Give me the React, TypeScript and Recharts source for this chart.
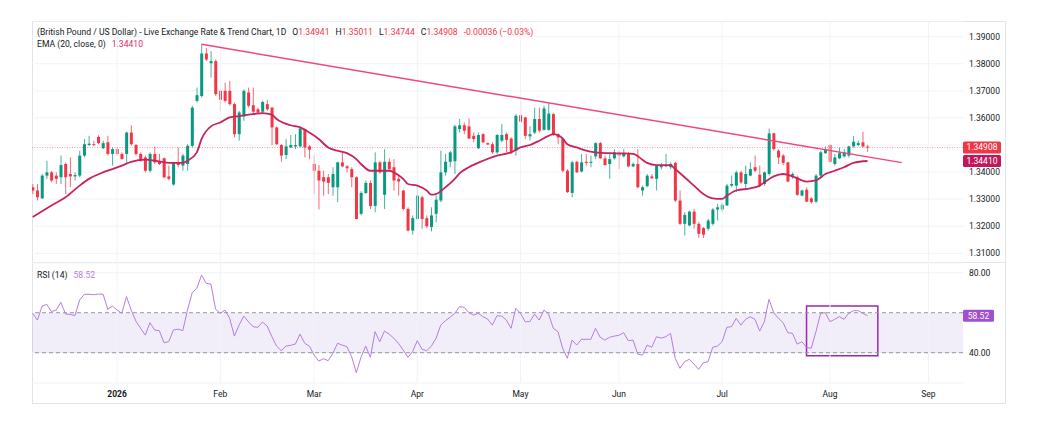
import {
  ComposedChart,
  Bar,
  Line,
  XAxis,
  YAxis,
  CartesianGrid,
  ReferenceLine,
  ReferenceArea,
} from 'recharts';

// daily GBP/USD candles, [open, high, low, close], one per trading day
const CANDLES: [number, number, number, number][] = [
  [1.3344, 1.3356, 1.3319, 1.3332], [1.3332, 1.3356, 1.3295, 1.3307], [1.3303, 1.3393, 1.3301, 1.3387],
  [1.3387, 1.3442, 1.3375, 1.3399], [1.3399, 1.3405, 1.3362, 1.3369], [1.3387, 1.3399, 1.3356, 1.3375],
  [1.3381, 1.3461, 1.3356, 1.3426], [1.343, 1.3436, 1.3319, 1.3381], [1.3393, 1.3454, 1.3344, 1.3384],
  [1.3384, 1.3399, 1.3369, 1.3389], [1.3387, 1.3479, 1.3381, 1.3461], [1.3461, 1.3522, 1.3454, 1.3503],
  [1.35, 1.3534, 1.3497, 1.3505], [1.3503, 1.3516, 1.3497, 1.3502], [1.353, 1.3536, 1.3503, 1.3507],
  [1.3488, 1.3516, 1.3485, 1.3507], [1.351, 1.3534, 1.3461, 1.3467], [1.3467, 1.3491, 1.3424, 1.3485],
  [1.3485, 1.3491, 1.3461, 1.3467], [1.3467, 1.3473, 1.3446, 1.3448], [1.3467, 1.3549, 1.343, 1.3546],
  [1.3546, 1.3573, 1.3497, 1.3503], [1.35, 1.3503, 1.3461, 1.3467], [1.3467, 1.3473, 1.3438, 1.3442],
  [1.3454, 1.3461, 1.3399, 1.3405], [1.3405, 1.3473, 1.3399, 1.3467], [1.3467, 1.3495, 1.343, 1.3436],
  [1.3438, 1.3467, 1.3426, 1.343], [1.3451, 1.3454, 1.3377, 1.3381], [1.3384, 1.3424, 1.3369, 1.3375],
  [1.3354, 1.3438, 1.335, 1.3436], [1.3434, 1.3491, 1.3418, 1.3426], [1.3424, 1.3467, 1.3405, 1.3461],
  [1.343, 1.3503, 1.3405, 1.3497], [1.3497, 1.3645, 1.3491, 1.3638], [1.3663, 1.3712, 1.3657, 1.3684],
  [1.3681, 1.3872, 1.3675, 1.3838], [1.3838, 1.3859, 1.381, 1.3816], [1.3802, 1.3847, 1.3749, 1.381],
  [1.381, 1.3816, 1.3681, 1.3688], [1.37, 1.3706, 1.3626, 1.3667], [1.37, 1.373, 1.3657, 1.3663],
  [1.37, 1.3737, 1.3645, 1.3651], [1.3651, 1.3657, 1.3528, 1.354], [1.354, 1.3626, 1.3516, 1.362],
  [1.3605, 1.3706, 1.3589, 1.37], [1.3694, 1.3712, 1.3638, 1.3645], [1.3647, 1.3712, 1.3614, 1.3623],
  [1.3632, 1.3638, 1.3614, 1.362], [1.3623, 1.3663, 1.3614, 1.3659], [1.3651, 1.3667, 1.3626, 1.3632],
  [1.3638, 1.364, 1.35, 1.3565], [1.3565, 1.3569, 1.35, 1.3503], [1.35, 1.3503, 1.3438, 1.3461],
  [1.3463, 1.3522, 1.3448, 1.3495], [1.3491, 1.3537, 1.3489, 1.35], [1.3495, 1.354, 1.3485, 1.35],
  [1.3495, 1.3569, 1.3491, 1.3561], [1.3559, 1.3561, 1.3454, 1.3491], [1.3495, 1.35, 1.3448, 1.3483],
  [1.343, 1.3461, 1.3319, 1.3405], [1.3405, 1.3426, 1.3262, 1.3369], [1.3381, 1.3405, 1.3313, 1.3365],
  [1.3381, 1.3393, 1.3319, 1.336], [1.3344, 1.3418, 1.3313, 1.3393], [1.3344, 1.3438, 1.3289, 1.3436],
  [1.3436, 1.3473, 1.3418, 1.3421], [1.3421, 1.3426, 1.3399, 1.3414], [1.3411, 1.3418, 1.3344, 1.3381],
  [1.3381, 1.3384, 1.3225, 1.3227], [1.3246, 1.333, 1.324, 1.3323], [1.3323, 1.3369, 1.3319, 1.336],
  [1.336, 1.3369, 1.3264, 1.3275], [1.3275, 1.3473, 1.3252, 1.3436], [1.3436, 1.3442, 1.3393, 1.3399],
  [1.3316, 1.3485, 1.3264, 1.3438], [1.3438, 1.3451, 1.3405, 1.3411], [1.3418, 1.3448, 1.3332, 1.3369],
  [1.3375, 1.3387, 1.3313, 1.3365], [1.3332, 1.3335, 1.3258, 1.3264], [1.3264, 1.327, 1.3181, 1.3184],
  [1.3184, 1.324, 1.3169, 1.323], [1.3227, 1.3344, 1.3221, 1.3313], [1.3307, 1.3313, 1.3191, 1.3227],
  [1.323, 1.324, 1.3193, 1.32], [1.3197, 1.327, 1.3181, 1.324], [1.3246, 1.3313, 1.3215, 1.3298],
  [1.3295, 1.3479, 1.3289, 1.3399], [1.3399, 1.3467, 1.3387, 1.3438], [1.3438, 1.3479, 1.3418, 1.3473],
  [1.344, 1.3575, 1.3393, 1.3569], [1.3559, 1.3596, 1.3546, 1.3573], [1.3573, 1.3583, 1.354, 1.3553],
  [1.3569, 1.3598, 1.3522, 1.3524], [1.3534, 1.3546, 1.351, 1.3522], [1.3488, 1.3546, 1.3485, 1.3537],
  [1.354, 1.3543, 1.3507, 1.351], [1.3507, 1.351, 1.35, 1.3502], [1.3503, 1.351, 1.3467, 1.3473],
  [1.3473, 1.354, 1.3467, 1.3537], [1.3516, 1.3577, 1.351, 1.3537], [1.354, 1.3546, 1.3473, 1.3519],
  [1.3524, 1.3528, 1.3467, 1.3473], [1.3479, 1.3614, 1.3461, 1.3608], [1.361, 1.3659, 1.3581, 1.3586],
  [1.3602, 1.3605, 1.3522, 1.3534], [1.3532, 1.3569, 1.3516, 1.354], [1.3546, 1.3638, 1.354, 1.3596],
  [1.3596, 1.3638, 1.3546, 1.3553], [1.3556, 1.3645, 1.3553, 1.3635], [1.3556, 1.3657, 1.3553, 1.3616],
  [1.3614, 1.3618, 1.3534, 1.354], [1.354, 1.3543, 1.3503, 1.3528], [1.3522, 1.3524, 1.3399, 1.3405],
  [1.3405, 1.3411, 1.3323, 1.3326], [1.3323, 1.3442, 1.3307, 1.3436], [1.3438, 1.3442, 1.3397, 1.3399],
  [1.3402, 1.3467, 1.3399, 1.3436], [1.3438, 1.3467, 1.3424, 1.3434], [1.3434, 1.3461, 1.3418, 1.3438],
  [1.3458, 1.351, 1.3448, 1.3507], [1.3507, 1.3512, 1.3448, 1.3451], [1.3451, 1.3461, 1.3424, 1.3426],
  [1.343, 1.3467, 1.3375, 1.3448], [1.3451, 1.3485, 1.3446, 1.3473], [1.3467, 1.3479, 1.3411, 1.3461],
  [1.3458, 1.3485, 1.3454, 1.3467], [1.3467, 1.3473, 1.3418, 1.3421], [1.3421, 1.3436, 1.3418, 1.343],
  [1.343, 1.3485, 1.334, 1.3344], [1.3332, 1.335, 1.3313, 1.3344], [1.3348, 1.3393, 1.3344, 1.3387],
  [1.3384, 1.3393, 1.3375, 1.3377], [1.3375, 1.3426, 1.3332, 1.3424], [1.3418, 1.3434, 1.3409, 1.3426],
  [1.3421, 1.3467, 1.3418, 1.3426], [1.3418, 1.3436, 1.3411, 1.343], [1.3434, 1.3438, 1.3289, 1.3295],
  [1.3295, 1.3332, 1.3205, 1.3209], [1.3209, 1.3252, 1.3166, 1.3242], [1.3203, 1.3258, 1.32, 1.3254],
  [1.3254, 1.3264, 1.3191, 1.3209], [1.3209, 1.3215, 1.3157, 1.3172], [1.3193, 1.3197, 1.3157, 1.3169],
  [1.3191, 1.3227, 1.3184, 1.3221], [1.3209, 1.3267, 1.3203, 1.3262], [1.3262, 1.3283, 1.3221, 1.327],
  [1.3262, 1.3286, 1.3252, 1.3279], [1.3277, 1.3356, 1.3274, 1.335], [1.335, 1.3387, 1.3344, 1.3356],
  [1.335, 1.3405, 1.3326, 1.3399], [1.3399, 1.3405, 1.3356, 1.3362], [1.3356, 1.3424, 1.3338, 1.3393],
  [1.3387, 1.3436, 1.3384, 1.3411], [1.3418, 1.3461, 1.3399, 1.3405], [1.339, 1.3424, 1.3344, 1.335],
  [1.3356, 1.3402, 1.335, 1.3399], [1.3393, 1.3561, 1.3387, 1.3543], [1.3543, 1.3546, 1.3479, 1.3485],
  [1.3479, 1.3485, 1.343, 1.3454], [1.3461, 1.3467, 1.3426, 1.3434], [1.3436, 1.3438, 1.3362, 1.3365],
  [1.3387, 1.3399, 1.3375, 1.3393], [1.3381, 1.3387, 1.3313, 1.3316], [1.3313, 1.3335, 1.3311, 1.3332],
  [1.3335, 1.3344, 1.3289, 1.3291], [1.3303, 1.3307, 1.3283, 1.3289], [1.3291, 1.3393, 1.3286, 1.3387],
  [1.3387, 1.3479, 1.3375, 1.3473], [1.347, 1.3495, 1.3467, 1.3485], [1.35, 1.3503, 1.3434, 1.3438],
  [1.343, 1.3467, 1.3424, 1.3454], [1.3451, 1.3491, 1.3448, 1.347], [1.3458, 1.3485, 1.3454, 1.3473],
  [1.3461, 1.3497, 1.3454, 1.3495], [1.3495, 1.3534, 1.3491, 1.3512], [1.35, 1.3516, 1.3497, 1.3507],
  [1.351, 1.3549, 1.3491, 1.3495], [1.34941, 1.35011, 1.34744, 1.34908],
];

// RSI(14), one value per candle
const RSI = [
  59.7, 56.3, 63.3, 64.2, 60.5, 61.3, 65.2, 59.3, 59.2, 58.5, 66.3, 69.2, 69.2, 69, 69.3, 69.3, 61.7, 63.3, 61.3, 59.7,
  68, 61.3, 55.8, 52.2, 48.8, 55, 51.3, 51, 45, 45.5, 51.3, 51.8, 51, 61.3, 70, 72.2, 78.8, 74.7, 74.3, 61.7,
  59.7, 61.3, 57.2, 48.3, 53.8, 58.3, 55.5, 53, 52.7, 55.3, 53.3, 48, 43.3, 41, 43.3, 43.7, 44.3, 49.3, 44.7, 43.3,
  38.8, 35.8, 37, 36, 39.7, 44.7, 43.8, 43, 38, 30, 37.7, 43.3, 37.7, 50.5, 45.5, 50.8, 49.3, 47.2, 44.7, 41.3,
  37.7, 40.5, 46, 41.7, 41, 43.3, 47.2, 53.8, 56, 57.7, 59.7, 63, 62.7, 60, 58.8, 59.7, 58, 56.8, 53.8, 58.5,
  58.3, 56.3, 52.2, 62.2, 59.7, 55.5, 55.5, 59.3, 56.3, 61.3, 59.3, 52.2, 50.5, 42.2, 37.2, 46.3, 43.8, 46.7, 46.7, 46.7,
  52.2, 47.7, 46.3, 47.7, 48.3, 48.7, 50, 46, 46.3, 39.3, 38.8, 43.8, 42.7, 48, 47.3, 48, 49.7, 37.2, 32.2, 35.5,
  36.7, 34.3, 31.7, 35, 35.5, 42.7, 43.3, 45.5, 52.7, 53, 57.2, 53.8, 56.7, 58, 56.7, 50.8, 55.5, 66.7, 60, 57.2,
  55, 50, 49.7, 44.3, 45.5, 42.7, 42.2, 50.5, 59.7, 60, 55.5, 56.7, 58, 56.7, 59.7, 61, 61, 59.7, 58.52,
];

// EMA(20): [candle index, value]
const EMA_POINTS: [number, number][] = [
  [0, 1.3234], [4, 1.3277], [7, 1.3307], [10, 1.335], [12, 1.3375], [15, 1.3399], [17, 1.3411], [19, 1.3424],
  [21, 1.3438], [24, 1.3446], [26, 1.3442], [28, 1.3436], [30, 1.3434], [32, 1.3434], [33, 1.3442], [35, 1.3473],
  [36, 1.3522], [38, 1.3569], [40, 1.3583], [42, 1.3602], [44, 1.3607], [47, 1.3614], [49, 1.3618], [51, 1.3612],
  [52, 1.3596], [55, 1.3573], [57, 1.3565], [59, 1.3546], [61, 1.3522], [63, 1.3491], [65, 1.3479], [67, 1.347],
  [69, 1.3448], [70, 1.343], [72, 1.3405], [74, 1.3405], [76, 1.3405], [77, 1.3399], [79, 1.3375], [80, 1.3356],
  [82, 1.335], [84, 1.3332], [85, 1.3317], [86, 1.3319], [88, 1.3344], [90, 1.3375], [91, 1.3395], [93, 1.3418],
  [96, 1.3442], [99, 1.3461], [102, 1.3473], [104, 1.3491], [106, 1.35], [108, 1.3516], [110, 1.3534], [111, 1.354],
  [113, 1.3524], [114, 1.3503], [116, 1.3491], [118, 1.3479], [120, 1.3473], [123, 1.347], [126, 1.3469], [128, 1.3467],
  [130, 1.3446], [131, 1.3434], [133, 1.3426], [136, 1.3426], [137, 1.3411], [139, 1.3381], [141, 1.335], [143, 1.3319],
  [145, 1.3303], [147, 1.3301], [148, 1.3313], [150, 1.3332], [153, 1.334], [155, 1.335], [156, 1.3362], [158, 1.3384],
  [160, 1.3393], [161, 1.339], [163, 1.3377], [165, 1.3365], [167, 1.3369], [169, 1.3393], [171, 1.3405], [173, 1.3418],
  [175, 1.3434], [178, 1.3441],
];

const MONTH_TICKS = [18, 40, 60, 82, 104, 125, 147, 170, 191];
const MONTH_LABELS = ['2026', 'Feb', 'Mar', 'Apr', 'May', 'Jun', 'Jul', 'Aug', 'Sep'];
const PRICE_TICKS = [1.31, 1.32, 1.33, 1.34, 1.35, 1.36, 1.37, 1.38, 1.39];
const RSI_TICKS = [40, 80];

// trend line drawn through the late-January high
const TREND_FROM = { x: 36, y: 1.3872 };
const TREND_TO = { x: 185.3, y: 1.3435 };
const LAST_CLOSE = 1.34908;
const LAST_EMA = 1.3441;
const LAST_RSI = 58.52;

const X_DOMAIN: [number, number] = [-0.15, 198.36];
const PRICE_DOMAIN: [number, number] = [1.30643, 1.3958];
const RSI_DOMAIN: [number, number] = [24.85, 84.85];

const UP = '#089981';
const DOWN = '#f23645';
const GRID = '#f0f3fa';
const TEXT = '#131722';
const FONT = 'Roboto, "Noto Sans", sans-serif';

const emaByIndex = new Map(EMA_POINTS);
const rows = CANDLES.map(([o, h, l, c], i) => ({
  i,
  o,
  h,
  l,
  c,
  range: [l, h],
  ema: emaByIndex.get(i) ?? null,
  rsi: RSI[i],
}));

function Candle(props: any) {
  const { x, y, width, height, payload } = props;
  if (!payload) return null;
  const { o, h, l, c } = payload;
  const color = c >= o ? UP : DOWN;
  const cx = x + width / 2;
  const yHigh = Math.min(y, y + height);
  const yLow = Math.max(y, y + height);
  const span = h - l || 1e-9;
  const py = (p: number) => yHigh + ((h - p) / span) * (yLow - yHigh);
  const top = py(Math.max(o, c));
  const bot = py(Math.min(o, c));
  return (
    <g>
      <line x1={cx} x2={cx} y1={yHigh} y2={yLow} stroke={color} strokeWidth={1} strokeOpacity={0.75} />
      <rect x={cx - 1.5} y={top} width={3} height={Math.max(bot - top, 1)} fill={color} />
    </g>
  );
}

function Tag(props: any) {
  const { viewBox, text, color, w } = props;
  if (!viewBox) return null;
  const left = viewBox.x + viewBox.width;
  return (
    <g>
      <rect x={left} y={viewBox.y - 6} width={w} height={12} rx={1.5} fill={color} />
      <text x={left + w / 2} y={viewBox.y} dy="0.35em" textAnchor="middle" fontSize={8.5} fill="#fff" fontFamily={FONT}>
        {text}
      </text>
    </g>
  );
}

function MonthTick(props: any) {
  const { x, y, payload } = props;
  const idx = MONTH_TICKS.indexOf(payload.value);
  const label = MONTH_LABELS[idx] ?? '';
  return (
    <text x={x} y={y} dy="0.71em" textAnchor="middle" fontSize={8.5} fontFamily={FONT} fill={TEXT} fontWeight={label === '2026' ? 700 : 400}>
      {label}
    </text>
  );
}

const tickStyle = { fontSize: 8.5, fill: TEXT, fontFamily: FONT };

// the 1.35 label sits under the last-price tag in the reference
const priceLabel = (v: number) => (Math.abs(v - 1.35) < 1e-6 ? '' : v.toFixed(5));

export default function App() {
  return (
    <div style={{ position: 'absolute', left: 0, top: 0, width: 1051, height: 432, background: '#fff', fontFamily: FONT }}>
      <div style={{ position: 'absolute', left: 32, top: 21, width: 974, height: 383, border: '1px solid #e0e3eb', boxSizing: 'border-box' }} />
      <div style={{ position: 'absolute', left: 32, top: 262, width: 974, height: 1, background: '#e0e3eb' }} />

      <div style={{ position: 'absolute', left: 32, top: 21 }}>
        <ComposedChart width={974} height={242} data={rows} margin={{ top: 0, right: 0, bottom: 0, left: 0 }}>
          <CartesianGrid vertical={false} stroke={GRID} />
          {MONTH_TICKS.map((t) => (
            <ReferenceLine key={t} x={t} stroke={GRID} />
          ))}
          <XAxis dataKey="i" type="number" domain={X_DOMAIN} allowDataOverflow hide />
          <YAxis
            orientation="right"
            width={43}
            domain={PRICE_DOMAIN}
            allowDataOverflow
            ticks={PRICE_TICKS}
            tickFormatter={priceLabel}
            axisLine={false}
            tickLine={false}
            tickMargin={0}
            tick={tickStyle}
          />
          <ReferenceLine
            y={LAST_CLOSE}
            stroke={DOWN}
            strokeOpacity={0.5}
            strokeDasharray="1 1.5"
            label={<Tag text="1.34908" color={DOWN} w={38} />}
          />
          <ReferenceLine y={LAST_EMA} stroke="none" label={<Tag text="1.34410" color="#c2185b" w={38} />} />
          <Bar dataKey="range" barSize={3} shape={<Candle />} isAnimationActive={false} />
          <Line
            dataKey="ema"
            type="monotone"
            stroke="#c8235f"
            strokeWidth={1.8}
            dot={false}
            connectNulls
            isAnimationActive={false}
          />
          <ReferenceLine segment={[TREND_FROM, TREND_TO]} stroke="#f0467f" strokeWidth={1.5} />
        </ComposedChart>
      </div>

      <div style={{ position: 'absolute', left: 32, top: 263 }}>
        <ComposedChart width={974} height={141} data={rows} margin={{ top: 0, right: 0, bottom: 0, left: 0 }}>
          <CartesianGrid vertical={false} stroke={GRID} />
          {MONTH_TICKS.map((t) => (
            <ReferenceLine key={t} x={t} stroke={GRID} />
          ))}
          <XAxis
            dataKey="i"
            type="number"
            domain={X_DOMAIN}
            allowDataOverflow
            ticks={MONTH_TICKS}
            height={21}
            axisLine={false}
            tickLine={false}
            tick={<MonthTick />}
          />
          <YAxis
            orientation="right"
            width={43}
            domain={RSI_DOMAIN}
            allowDataOverflow
            ticks={RSI_TICKS}
            tickFormatter={(v: number) => v.toFixed(2)}
            axisLine={false}
            tickLine={false}
            tickMargin={0}
            tick={tickStyle}
          />
          <ReferenceArea y1={40} y2={60} fill="#7e57c2" fillOpacity={0.1} stroke="none" />
          <ReferenceLine y={60} stroke="#9598a1" strokeDasharray="4 3" />
          <ReferenceLine y={40} stroke="#9598a1" strokeDasharray="4 3" />
          <Line dataKey="rsi" type="linear" stroke="#b57edc" strokeWidth={1} dot={false} isAnimationActive={false} />
          <ReferenceLine y={LAST_RSI} stroke="none" label={<Tag text="58.52" color="#a14fd0" w={31} />} />
          <ReferenceArea x1={165} x2={180.2} y1={38.5} y2={63.35} fill="none" stroke="#9c27b0" strokeWidth={1.5} ifOverflow="visible" />
        </ComposedChart>
      </div>

      <div style={{ position: 'absolute', left: 37, top: 27, fontSize: 8.6, color: TEXT, whiteSpace: 'nowrap', lineHeight: '11px' }}>
        (British Pound / US Dollar) - Live Exchange Rate &amp; Trend Chart, 1D
        <span style={{ marginLeft: 6 }}>O</span><span style={{ color: DOWN }}>1.34941</span>
        <span style={{ marginLeft: 6 }}>H</span><span style={{ color: DOWN }}>1.35011</span>
        <span style={{ marginLeft: 6 }}>L</span><span style={{ color: DOWN }}>1.34744</span>
        <span style={{ marginLeft: 6 }}>C</span><span style={{ color: DOWN }}>1.34908</span>
        <span style={{ marginLeft: 6, color: DOWN }}>-0.00036 (−0.03%)</span>
      </div>
      <div style={{ position: 'absolute', left: 37, top: 39, fontSize: 8.6, color: TEXT, whiteSpace: 'nowrap', lineHeight: '11px' }}>
        EMA (20, close, 0)<span style={{ marginLeft: 6, color: '#e91e63' }}>1.34410</span>
      </div>
      <div style={{ position: 'absolute', left: 37, top: 270, fontSize: 8.6, color: TEXT, whiteSpace: 'nowrap', lineHeight: '11px' }}>
        RSI (14)<span style={{ marginLeft: 6, color: '#b57edc' }}>58.52</span>
      </div>
    </div>
  );
}
